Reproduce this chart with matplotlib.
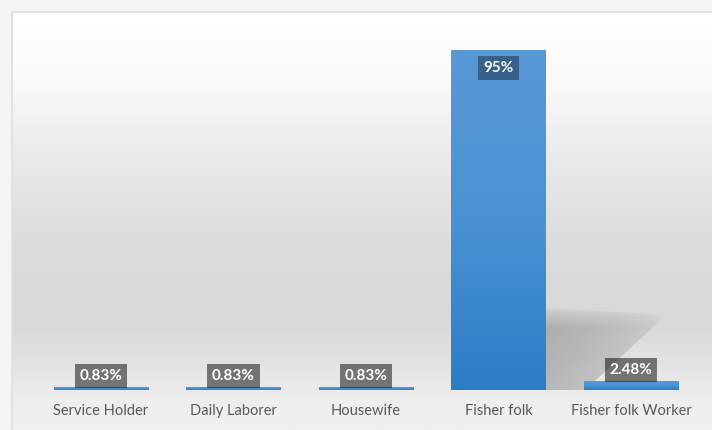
import numpy as np
import matplotlib
matplotlib.use("Agg")
import matplotlib.pyplot as plt
from matplotlib.colors import LinearSegmentedColormap
from matplotlib.patches import Polygon

# Occupation share of respondents (%)
categories = ["Service Holder", "Daily Laborer", "Housewife", "Fisher folk", "Fisher folk Worker"]
values = [0.83, 0.83, 0.83, 95, 2.48]
value_labels = ["0.83%", "0.83%", "0.83%", "95%", "2.48%"]

plt.rcParams["font.family"] = ["Lato", "DejaVu Sans"]

W, H = 712, 430
fig = plt.figure(figsize=(W / 100, H / 100), dpi=100)
fig.patch.set_facecolor("#f3f6f9")

# Framed panel with a soft vertical grey gradient
bg = fig.add_axes([12 / W, 0, 700 / W, 418 / H])
bg_stops = [(0.0, "#ffffff"), (0.15, "#fbfbfb"), (0.32, "#ececec"),
            (0.55, "#dcdcdc"), (0.75, "#d9d9d9"), (0.84, "#e3e3e3"),
            (0.93, "#eeeeee"), (1.0, "#f1f1f1")]
bg_cmap = LinearSegmentedColormap.from_list("panel", bg_stops)
bg.imshow(np.linspace(0, 1, 256).reshape(-1, 1), cmap=bg_cmap, aspect="auto",
          extent=[0, 1, 0, 1], origin="upper")
bg.set_xlim(0, 1)
bg.set_ylim(0, 1)
bg.set_xticks([])
bg.set_yticks([])
for s in ("top", "left"):
    bg.spines[s].set_color("#dfe3e7")
    bg.spines[s].set_linewidth(1.5)
for s in ("right", "bottom"):
    bg.spines[s].set_visible(False)

# Data axes
ax = fig.add_axes([34.75 / W, 40 / H, 662.5 / W, 358 / H])
ax.patch.set_alpha(0)
x = np.arange(len(categories))
bars = ax.bar(x, values, width=0.71, color="#3b88d0", zorder=3)
ax.set_xlim(-0.5, len(categories) - 0.5)
ax.set_ylim(0, 100)

# Vertical gradient fill inside each bar
bar_cmap = LinearSegmentedColormap.from_list("bar", ["#2c7cc6", "#4a92d4", "#5899d6"])
for b in bars:
    bx, by = b.get_x(), b.get_y()
    bw, bh = b.get_width(), b.get_height()
    im = ax.imshow(np.linspace(0, 1, 128).reshape(-1, 1), cmap=bar_cmap,
                   aspect="auto", origin="lower",
                   extent=[bx, bx + bw, by, by + bh], zorder=3.5)
    im.set_clip_path(b)

# Cast shadow to the right of the tallest bar
tall = bars[int(np.argmax(values))]
xr = tall.get_x() + tall.get_width()
sh_h = 23
poly = Polygon([(xr, 0), (xr, sh_h), (xr + 0.91, sh_h - 2), (xr + 0.30, 0)],
               closed=True, facecolor="none", edgecolor="none")
ax.add_patch(poly)
gx = np.linspace(0, 1, 200)
gy = np.linspace(0, 1, 100)
GX, GY = np.meshgrid(gx, gy)
alpha = 0.42 * (1 - GX) ** 0.5 * np.clip((1 - GY) * 4, 0, 1) ** 0.7
rgba = np.zeros(GX.shape + (4,))
rgba[..., :3] = 0.45
rgba[..., 3] = alpha
sh = ax.imshow(rgba, origin="lower", aspect="auto",
               extent=[xr, xr + 0.91, 0, sh_h], zorder=2)
sh.set_clip_path(poly)
ax.set_xlim(-0.5, len(categories) - 0.5)
ax.set_ylim(0, 100)

# Value labels in dark boxes
for xi, v, lab in zip(x, values, value_labels):
    if v > 50:
        box = dict(boxstyle="square,pad=0.32", facecolor="black", alpha=0.36,
                   edgecolor="none")
        ax.annotate(lab, (xi, v), xytext=(0, -8), textcoords="offset points",
                    ha="center", va="top", color="white", fontsize=11,
                    fontweight="bold", bbox=box, zorder=5)
    else:
        box = dict(boxstyle="square,pad=0.32", facecolor="black", alpha=0.5,
                   edgecolor="none")
        ax.annotate(lab, (xi, v), xytext=(0, 3), textcoords="offset points",
                    ha="center", va="bottom", color="white", fontsize=11,
                    fontweight="bold", bbox=box, zorder=5)

ax.set_xticks(x)
ax.set_xticklabels(categories, fontsize=10.5, color="#595959")
ax.tick_params(axis="x", length=0, pad=10)
ax.set_yticks([])
for s in ax.spines.values():
    s.set_visible(False)

fig.savefig("out.png", dpi=100, facecolor=fig.get_facecolor())
